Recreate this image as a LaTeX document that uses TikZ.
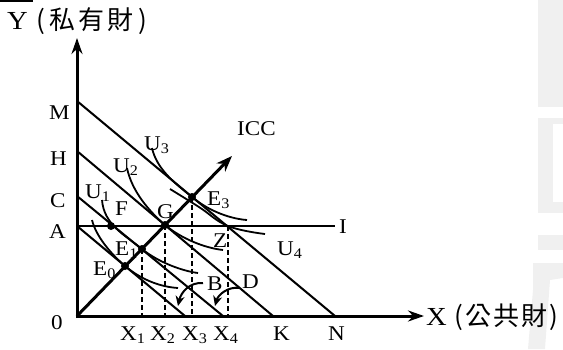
\documentclass[tikz,border=0pt]{standalone}
\usepackage{fontspec}
\setmainfont{Liberation Serif}[FakeStretch=1.1]
\newfontfamily\cjk{Noto Sans CJK TC}
\usetikzlibrary{arrows.meta}
\begin{document}
\begin{tikzpicture}[x=1pt,y=-1pt,
  lbl/.style={font=\fontsize{21}{24}\selectfont, inner sep=0pt, anchor=base west},
  title/.style={font=\fontsize{26}{30}\selectfont, inner sep=0pt, anchor=base west},
  axisline/.style={line width=3pt, -{Stealth[length=16pt,width=11pt]}},
  budget/.style={line width=2pt},
  ucurve/.style={line width=1.8pt},
  guide/.style={line width=1.5pt, dash pattern=on 5pt off 3pt},
  dot/.style={circle, fill=black, inner sep=0pt, minimum size=8pt},
  curvearrow/.style={line width=2pt, -{Stealth[length=10pt,width=9pt]}},
  wm/.style={fill=gray!12, draw=none}]
\useasboundingbox (0,0) rectangle (563,349);
% watermark
\fill[wm] (538,0) rectangle (563,107);
\fill[wm] (538,118) rectangle (563,213);
\fill[white] (553,124) rectangle (563,202);
\fill[wm] (538,235) rectangle (563,250);
\fill[wm] (533,263) -- (563,263) -- (563,278) -- (550,280) -- (545,349) -- (528,349) -- (533,290) -- cycle;
% top-left bar
\draw[line width=2pt] (0,1) -- (33,1);
% coordinates
\coordinate (O) at (77,316);
\coordinate (Ytip) at (77,38);
\coordinate (Xtip) at (424,316);
\coordinate (M) at (77,101);
\coordinate (N) at (335,316);
\coordinate (H) at (77,151);
\coordinate (K) at (273,316);
\coordinate (C) at (77,196);
\coordinate (Cend) at (223,316);
\coordinate (A) at (77,226);
\coordinate (Aend) at (185,316);
\coordinate (Iend) at (335,226);
\coordinate (ICCtip) at (232,156);
\coordinate (Z) at (228,226);
% budget lines
\draw[budget] (M) -- (N);
\draw[budget] (H) -- (K);
\draw[budget] (C) -- (Cend);
\draw[budget] (A) -- (Aend);
\draw[budget] (A) -- (Iend);
% points
\node[dot] (E0) at (125,266) {};
\node[dot] (E1) at (142,249) {};
\node[dot] (G) at (165,225) {};
\node[dot] (E3) at (192,197) {};
\node[dot] (F) at (111,226) {};
% indifference curves
\draw[ucurve] (92,220) .. controls (96,236) and (110,253) .. (E0.center) .. controls (143,281) and (162,287) .. (178,288);
\draw[ucurve] (102,200) .. controls (104,225) and (125,235) .. (E1.center) .. controls (158,262) and (182,271) .. (198,273);
\draw[ucurve] (127,168) .. controls (132,192) and (150,212) .. (G.center) .. controls (182,239) and (205,248) .. (223,250);
\draw[ucurve] (152,148) .. controls (157,170) and (176,184) .. (E3.center) .. controls (210,212) and (232,219) .. (247,220);
\draw[ucurve] plot[smooth, tension=0.7] coordinates {(170,189) (199,207) (228,226) (265,234)};
% guides
\draw[guide] (E1.center) -- (E1.center |- O);
\draw[guide] (G.center) -- (G.center |- O);
\draw[guide] (E3.center) -- (E3.center |- O);
\draw[guide] (Z) -- (Z |- O);
% ICC
\draw[line width=3pt, -{Stealth[length=16pt,width=12pt]}] (O) -- (ICCtip);
% axes
\draw[axisline] (77,318) -- (Ytip);
\draw[axisline] (75.5,316) -- (Xtip);
% curved arrows
\coordinate (Bs) at (203,283);
\coordinate (Bt) at (178,306);
\coordinate (Ds) at (240,288);
\coordinate (Dt) at (215,306);
\draw[curvearrow] (Bs) .. controls (190,282) and (181,292) .. (Bt);
\draw[curvearrow] (Ds) .. controls (228,286) and (218,295) .. (Dt);
% labels
\node[title] (lY) at (7,29) {Y\kern9pt{\cjk\fontsize{26}{30}\selectfont (\kern4pt 私\kern3pt 有\kern3pt 財\kern5pt )}};
\node[title] (lX) at (426,325) {X\kern8pt{\cjk\fontsize{26}{30}\selectfont (\kern2pt 公\kern2pt 共\kern2pt 財\kern2pt )}};
\node[lbl] (lM) at (49,119) {M};
\node[lbl] (lH) at (50,165) {H};
\node[lbl] (lC) at (50,207) {C};
\node[lbl] (lA) at (49,238) {A};
\node[lbl] (l0) at (51,329) {0};
\node[lbl] (lU3) at (144,150) {U\textsubscript{3}};
\node[lbl] (lU2) at (113,172) {U\textsubscript{2}};
\node[lbl] (lU1) at (85,198) {U\textsubscript{1}};
\node[lbl] (lU4) at (277,255) {U\textsubscript{4}};
\node[lbl] (lE3) at (207,205) {E\textsubscript{3}};
\node[lbl] (lE1) at (115,255) {E\textsubscript{1}};
\node[lbl] (lE0) at (93,275) {E\textsubscript{0}};
\node[lbl] (lF) at (115,215) {F};
\node[lbl] (lG) at (157,218) {G};
\node[lbl] (lZ) at (213,247) {Z};
\node[lbl] (lB) at (207,290) {B};
\node[lbl] (lD) at (242,288) {D};
\node[lbl] (lI) at (339,233) {I};
\node[lbl] (lICC) at (237,135) {ICC};
\node[lbl] (lX1) at (120,340) {X\textsubscript{1}};
\node[lbl] (lX2) at (150,340) {X\textsubscript{2}};
\node[lbl] (lX3) at (182,340) {X\textsubscript{3}};
\node[lbl] (lX4) at (213,340) {X\textsubscript{4}};
\node[lbl] (lK) at (273,340) {K};
\node[lbl] (lN) at (328,340) {N};
\end{tikzpicture}
\end{document}
